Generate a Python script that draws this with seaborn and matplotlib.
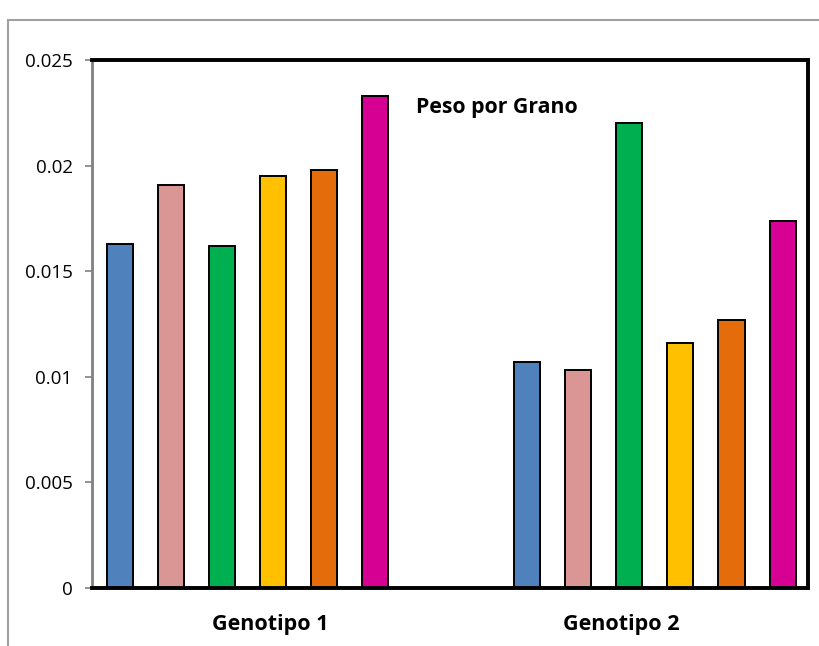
import matplotlib.pyplot as plt
import matplotlib.patches as mpatches
import pandas as pd
import seaborn as sns

# values
genotipos = ["Genotipo 1", "Genotipo 2"]
series = ["S1", "S2", "S3", "S4", "S5", "S6"]
g1 = [0.0163, 0.0191, 0.0162, 0.0195, 0.0198, 0.0233]
g2 = [0.0107, 0.0103, 0.0220, 0.0116, 0.0127, 0.0174]
colors = ["#4F81BD", "#D99694", "#00B050", "#FFC000", "#E46C0A", "#D60093"]

df = pd.DataFrame({
    "genotipo": [genotipos[0]] * 6 + [genotipos[1]] * 6,
    "serie": series * 2,
    "peso": g1 + g2,
})

sns.set_style("white")
plt.rcParams['font.family'] = ['Open Sans', 'DejaVu Sans']
plt.rcParams['text.color'] = 'black'
plt.rcParams['xtick.color'] = 'black'
plt.rcParams['ytick.color'] = 'black'

fig = plt.figure(figsize=(8.2, 6.46), dpi=100)
ax = fig.add_axes([0.1122, 0.0898, 0.8732, 0.8173])

sns.barplot(data=df, x="genotipo", y="peso", hue="serie", order=genotipos,
            hue_order=series, palette=colors, saturation=1, width=0.752, gap=0.49,
            edgecolor="black", linewidth=1.4, legend=False, ax=ax)

ax.set_ylim(0, 0.025)
ax.set_yticks([0, 0.005, 0.01, 0.015, 0.02, 0.025])
ax.set_yticklabels(["0", "0.005", "0.01", "0.015", "0.02", "0.025"], fontsize=13.5)
ax.set_xlim(-0.383, 1.376)
# category labels sit off the bar-group centres in the reference
ax.set_xticks([0.055, 0.916])
ax.set_xticklabels(genotipos, fontsize=15.5, fontweight="bold")
ax.tick_params(axis="x", length=0, pad=19)
ax.tick_params(axis="y", length=5, width=1.2, color="#808080", labelcolor="black",
               left=True, pad=9)
ax.set_xlabel("")
ax.set_ylabel("")

for side in ["top", "right", "bottom"]:
    ax.spines[side].set_color("black")
    ax.spines[side].set_linewidth(2.8)
ax.spines["left"].set_color("#808080")
ax.spines["left"].set_linewidth(2)

ax.text(0.566, 0.911, "Peso por Grano", transform=ax.transAxes, ha="center",
        va="center", fontsize=15.3, fontweight="bold")

# outer chart border (cropped on right and bottom)
fig.patches.append(mpatches.Rectangle((8 / 820, -0.1), 1.2, 1 - 20 / 646 + 0.1,
                                      transform=fig.transFigure, fill=False,
                                      edgecolor="#A0A0A0", linewidth=1.5))

fig.savefig("out.png", dpi=100)
